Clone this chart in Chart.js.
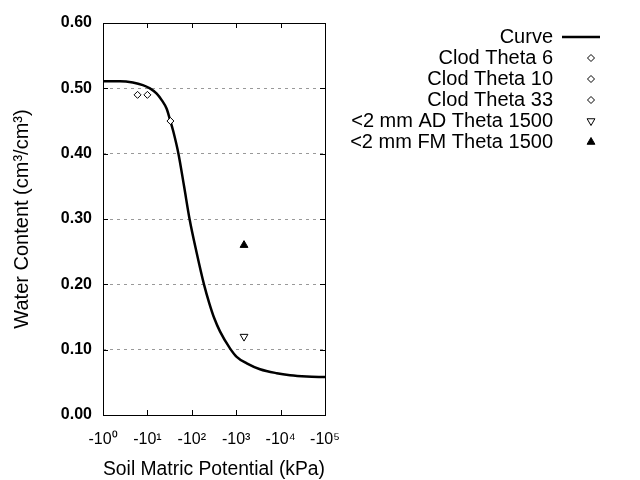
<!DOCTYPE html>
<html><head><meta charset="utf-8">
<script src="https://cdn.jsdelivr.net/npm/chart.js@4"></script>
<style>html,body{margin:0;padding:0;background:#fff}#wrap{width:640px;height:480px}</style>
</head><body><div id="wrap"><canvas id="c" width="640" height="480"></canvas></div>
<script>
// Matric potential magnitudes (kPa) and water content
const curveH = [1, 2.4, 4.7, 7.9, 11.4, 16.2, 21, 27, 32, 38, 50, 67, 89, 129, 188, 248, 321, 431, 724, 1025, 1730, 3440, 8180, 16300, 38600, 100000];
const curveTheta = [0.511, 0.511, 0.509, 0.505, 0.500, 0.492, 0.482, 0.469, 0.453, 0.435, 0.400, 0.350, 0.300, 0.248, 0.200, 0.171, 0.148, 0.128, 0.102, 0.089, 0.079, 0.070, 0.064, 0.061, 0.059, 0.058];
const seriesNames = ["Curve", "Clod Theta 6", "Clod Theta 10", "Clod Theta 33", "<2 mm AD Theta 1500", "<2 mm FM Theta 1500"];
const pointH = [6, 10, 33, 1500, 1500];
const pointTheta = [0.49, 0.49, 0.45, 0.12, 0.26];
const xTickValues = [1, 10, 100, 1000, 10000, 100000];
const xTickLabels = ["-10\u2070", "-10\u00b9", "-10\u00b2", "-10\u00b3", "-10\u2074", "-10\u2075"];
const yTickValues = [0, 0.1, 0.2, 0.3, 0.4, 0.5, 0.6];

const pointStyles = [
  {pointStyle: 'rectRot', radius: 3.5, bg: '#fff', rot: 0},
  {pointStyle: 'rectRot', radius: 3.5, bg: '#fff', rot: 0},
  {pointStyle: 'rectRot', radius: 3.5, bg: '#fff', rot: 0},
  {pointStyle: 'triangle', radius: 4.5, bg: '#fff', rot: 180},
  {pointStyle: 'triangle', radius: 4.5, bg: '#000', rot: 0}
];

const datasets = [{
  label: seriesNames[0],
  data: curveH.map((h, i) => ({x: h, y: curveTheta[i]})),
  showLine: true,
  borderColor: '#000', borderWidth: 2.5, pointRadius: 0, fill: false,
  cubicInterpolationMode: 'monotone', order: 1
}];
pointH.forEach((h, i) => {
  const s = pointStyles[i];
  datasets.push({
    label: seriesNames[i + 1],
    data: [{x: h, y: pointTheta[i]}],
    showLine: false, pointStyle: s.pointStyle, pointRadius: s.radius, pointRotation: s.rot,
    pointBackgroundColor: s.bg, pointBorderColor: '#000', pointBorderWidth: 1, order: 0
  });
});

const FONT = '"Liberation Sans", Arial, sans-serif';

const extras = {
  id: 'extras',
  afterDraw(chart) {
    const ctx = chart.ctx, a = chart.chartArea;
    const xs = chart.scales.x, ys = chart.scales.y;
    ctx.save();
    ctx.strokeStyle = '#000'; ctx.lineWidth = 1;
    ctx.beginPath();
    xTickValues.forEach(v => {
      const px = Math.round(xs.getPixelForValue(v)) + 0.5;
      ctx.moveTo(px, a.bottom); ctx.lineTo(px, a.bottom - 5);
      ctx.moveTo(px, a.top); ctx.lineTo(px, a.top + 5);
    });
    yTickValues.forEach(v => {
      const py = Math.round(ys.getPixelForValue(v)) + 0.5;
      ctx.moveTo(a.left, py); ctx.lineTo(a.left + 5, py);
      ctx.moveTo(a.right, py); ctx.lineTo(a.right - 5, py);
    });
    ctx.stroke();
    ctx.strokeRect(Math.round(a.left) + 0.5, Math.round(a.top) + 0.5, Math.round(a.right - a.left), Math.round(a.bottom - a.top));
    // legend
    ctx.font = '20px ' + FONT;
    ctx.textAlign = 'right'; ctx.textBaseline = 'middle';
    chart.data.datasets.forEach((ds, i) => {
      const y = 37 + i * 21;
      ctx.fillStyle = '#000';
      ctx.fillText(ds.label, 553, y);
      ctx.strokeStyle = '#000';
      if (i === 0) {
        ctx.lineWidth = 2.5;
        ctx.beginPath(); ctx.moveTo(562, y); ctx.lineTo(600, y); ctx.stroke();
        ctx.lineWidth = 1;
      } else {
        ctx.fillStyle = ds.pointBackgroundColor;
        ctx.lineWidth = 1;
        Chart.helpers.drawPoint(ctx, {pointStyle: ds.pointStyle, radius: ds.pointRadius, rotation: ds.pointRotation, borderWidth: 1}, 591, y);
      }
    });
    ctx.restore();
  }
};

new Chart(document.getElementById('c'), {
  type: 'scatter',
  data: {datasets},
  options: {
    responsive: false, animation: false,
    layout: {padding: {top: 23, right: 315, bottom: 0, left: 6}},
    plugins: {legend: {display: false}, tooltip: {enabled: false}},
    scales: {
      x: {
        type: 'logarithmic', min: 1, max: 100000,
        afterBuildTicks: s => { s.ticks = xTickValues.map(v => ({value: v})); },
        afterFit: s => { s.height = 65; },
        grid: {display: false, drawTicks: false},
        border: {display: false},
        ticks: {
          autoSkip: false, maxRotation: 0, padding: 15, color: '#000',
          font: {family: FONT, size: 16},
          callback: (v) => { const i = xTickValues.indexOf(v); return i >= 0 ? xTickLabels[i] : ''; }
        },
        title: {display: true, text: 'Soil Matric Potential (kPa)', color: '#000', font: {family: FONT, size: 20}, padding: {top: 10, bottom: -1}}
      },
      y: {
        min: 0, max: 0.6,
        afterBuildTicks: s => { s.ticks = yTickValues.map(v => ({value: v})); },
        afterFit: s => { s.width = 97; },
        grid: {
          drawTicks: false,
          color: c => (c.tick && (c.tick.value === 0 || Math.abs(c.tick.value - 0.6) < 1e-9)) ? 'rgba(0,0,0,0)' : '#999',
          lineWidth: 1
        },
        border: {display: false, dash: [3, 4]},
        ticks: {
          padding: 11, color: '#000',
          font: {family: FONT, size: 16, weight: 'bold'},
          callback: v => Number(v).toFixed(2)
        },
        title: {display: true, text: 'Water Content (cm\u00b3/cm\u00b3)', color: '#000', font: {family: FONT, size: 20}, padding: {bottom: 4}}
      }
    }
  },
  plugins: [extras]
});
</script>
</body></html>
